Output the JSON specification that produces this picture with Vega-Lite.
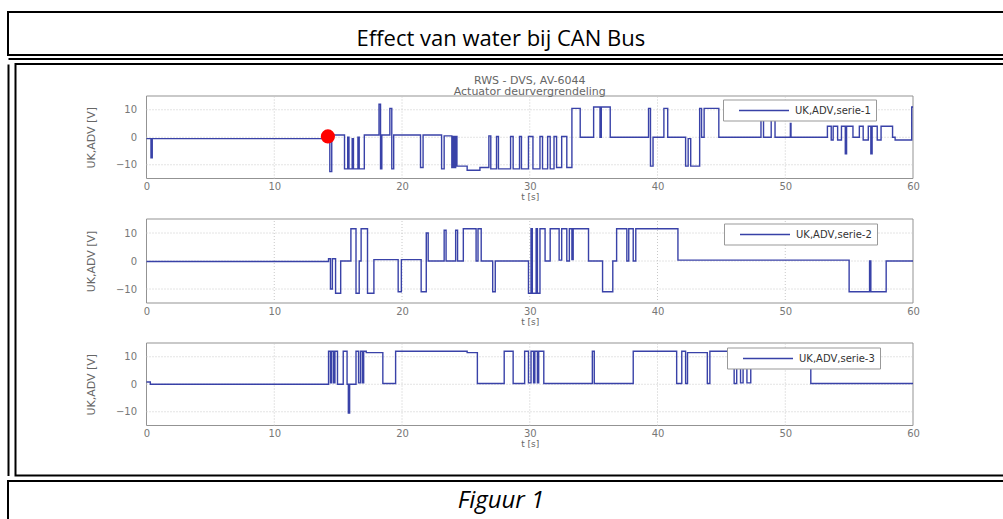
{
  "$schema": "https://vega.github.io/schema/vega-lite/v6.json",
  "background": "white",
  "padding": {"left": 7, "top": 11, "right": 0, "bottom": 0},
  "spacing": 0,
  "center": true,
  "config": {"font": "DejaVu Sans", "view": {"stroke": null}},
  "vconcat": [
    {
      "width": 1010,
      "height": 43,
      "view": {"stroke": "black", "strokeWidth": 2},
      "data": {"values": [{"label": "Effect van water bij CAN Bus"}]},
      "mark": {"type": "text", "font": "Open Sans", "fontSize": 22, "dy": 5, "color": "black", "baseline": "middle"},
      "encoding": {
        "text": {"field": "label"},
        "x": {"datum": 0.488, "type": "quantitative", "scale": {"domain": [0, 1]},
          "axis": {"orient": "bottom", "offset": 3.5, "domainColor": "black", "domainWidth": 2, "domainCap": "butt", "ticks": false, "labels": false, "title": null, "grid": false}}
      }
    },
    {
      "width": 995,
      "height": 411.5,
      "view": {"stroke": "black", "strokeWidth": 2},
      "resolve": {
        "scale": {"x": "independent", "y": "independent", "color": "independent"},
        "axis": {"x": "independent", "y": "independent"},
        "legend": {"color": "independent"}
      },
      "layer": [
        {
          "data": {"values": [{}]},
          "mark": {"type": "rect", "fillOpacity": 0, "stroke": "#939393", "strokeWidth": 1},
          "encoding": {
            "x": {"datum": 0, "type": "quantitative", "scale": {"domain": [0, 60], "range": [131, 897.5], "nice": false, "zero": false},
              "axis": {"orient": "bottom", "offset": -297, "values": [0, 10, 20, 30, 40, 50, 60], "grid": false, "domain": false, "ticks": false, "labelFlush": false, "labelPadding": 3, "labelFontSize": 10, "labelColor": "#777", "title": "t [s]", "titleFontSize": 9, "titleFontWeight": "normal", "titleColor": "#666", "titlePadding": 1}},
            "x2": {"datum": 60},
            "y": {"datum": -15, "type": "quantitative", "scale": {"domain": [-15, 15], "range": [114.5, 32], "nice": false, "zero": false},
              "axis": {"orient": "left", "offset": -131, "values": [-10, 0, 10], "grid": false, "domain": false, "ticks": false, "labelPadding": 10, "labelFontSize": 10, "labelColor": "#777", "title": "UK,ADV [V]", "titleFontSize": 11, "titleFontWeight": "normal", "titleColor": "#666", "titlePadding": 19}},
            "y2": {"datum": 15}
          }
        },
        {
          "data": {"values": [{"t": 10}, {"t": 20}, {"t": 30}, {"t": 40}, {"t": 50}]},
          "mark": {"type": "rule", "color": "#c8c8c8", "strokeDash": [1, 2]},
          "encoding": {
            "x": {"field": "t", "type": "quantitative", "scale": {"domain": [0, 60], "range": [131, 897.5], "nice": false, "zero": false}, "axis": null},
            "y": {"datum": -15, "type": "quantitative", "scale": {"domain": [-15, 15], "range": [114.5, 32], "nice": false, "zero": false}, "axis": null},
            "y2": {"datum": 15}
          }
        },
        {
          "data": {"values": [{"u": -10}, {"u": 0}, {"u": 10}]},
          "mark": {"type": "rule", "color": "#c8c8c8", "strokeDash": [1, 2]},
          "encoding": {
            "x": {"datum": 0, "type": "quantitative", "scale": {"domain": [0, 60], "range": [131, 897.5], "nice": false, "zero": false}, "axis": null},
            "x2": {"datum": 60},
            "y": {"field": "u", "type": "quantitative", "scale": {"domain": [-15, 15], "range": [114.5, 32], "nice": false, "zero": false}, "axis": null}
          }
        },
        {
          "data": {"values": [
            {"t": 0, "u": -0.5}, {"t": 0.35, "u": -7.5}, {"t": 0.45, "u": -0.5}, {"t": 14.35, "u": -12.5}, {"t": 14.5, "u": 0.8},
            {"t": 15.5, "u": -11.5}, {"t": 15.75, "u": 0}, {"t": 15.85, "u": -11.5}, {"t": 16.1, "u": -0.5}, {"t": 16.2, "u": -11.5},
            {"t": 16.55, "u": 0}, {"t": 16.65, "u": -11.5}, {"t": 17.05, "u": 0.8}, {"t": 18.2, "u": 12}, {"t": 18.32, "u": -11.5},
            {"t": 18.42, "u": 0.8}, {"t": 19.05, "u": 10.5}, {"t": 19.2, "u": -11.5}, {"t": 19.35, "u": 0.8}, {"t": 21.45, "u": -11},
            {"t": 21.65, "u": 0.8}, {"t": 23.1, "u": -11.5}, {"t": 23.3, "u": 0.5}, {"t": 23.9, "u": -11}, {"t": 24.0, "u": 0.3},
            {"t": 24.1, "u": -11}, {"t": 24.2, "u": 0.3}, {"t": 24.3, "u": -10.5}, {"t": 25.1, "u": -12}, {"t": 26.1, "u": -11},
            {"t": 26.8, "u": 0.5}, {"t": 26.95, "u": -11.5}, {"t": 27.4, "u": 0.3}, {"t": 27.55, "u": -11.5}, {"t": 28.5, "u": 0.3},
            {"t": 28.7, "u": -11.5}, {"t": 29.2, "u": 0.3}, {"t": 29.35, "u": -11.5}, {"t": 29.9, "u": 0.3}, {"t": 30.25, "u": -11.5},
            {"t": 30.8, "u": 0.3}, {"t": 31.0, "u": -11.5}, {"t": 31.4, "u": 0.3}, {"t": 31.6, "u": -11.5}, {"t": 31.9, "u": 0.3},
            {"t": 32.1, "u": -11}, {"t": 32.5, "u": 0.3}, {"t": 32.9, "u": -11}, {"t": 33.3, "u": 10.5}, {"t": 33.95, "u": 0},
            {"t": 35.0, "u": 11}, {"t": 35.5, "u": 0}, {"t": 35.6, "u": 11}, {"t": 36.3, "u": 0}, {"t": 39.3, "u": 10.5},
            {"t": 39.45, "u": -10.5}, {"t": 39.65, "u": 0}, {"t": 40.5, "u": 10.5}, {"t": 40.8, "u": 0}, {"t": 42.2, "u": -10.5},
            {"t": 42.4, "u": -0.5}, {"t": 42.6, "u": -10.5}, {"t": 43.3, "u": 10.5}, {"t": 43.45, "u": 0}, {"t": 43.65, "u": 10.5},
            {"t": 44.8, "u": 0}, {"t": 48.1, "u": 8}, {"t": 48.3, "u": 0}, {"t": 48.9, "u": 7}, {"t": 49.2, "u": 0},
            {"t": 50.4, "u": 5}, {"t": 50.45, "u": 0}, {"t": 53.3, "u": 4}, {"t": 53.6, "u": -1}, {"t": 53.75, "u": 4},
            {"t": 54.1, "u": -1}, {"t": 54.4, "u": 4}, {"t": 54.7, "u": -6}, {"t": 54.8, "u": 4}, {"t": 55.3, "u": 0},
            {"t": 55.8, "u": 4}, {"t": 56.1, "u": -1}, {"t": 56.5, "u": 4}, {"t": 56.7, "u": -6}, {"t": 56.8, "u": 4},
            {"t": 57.2, "u": -1}, {"t": 57.5, "u": 4}, {"t": 58.4, "u": 0}, {"t": 58.6, "u": -1}, {"t": 59.9, "u": 11}, {"t": 60, "u": 11}
          ]},
          "mark": {"type": "line", "interpolate": "step-after", "strokeWidth": 1.4, "opacity": 0.9},
          "encoding": {
            "x": {"field": "t", "type": "quantitative", "scale": {"domain": [0, 60], "range": [131, 897.5], "nice": false, "zero": false}, "axis": null},
            "y": {"field": "u", "type": "quantitative", "scale": {"domain": [-15, 15], "range": [114.5, 32], "nice": false, "zero": false}, "axis": null},
            "color": {"datum": "UK,ADV,serie-1", "type": "nominal", "scale": {"range": ["#232d9e"]},
              "legend": {"orient": "none", "legendX": 707.5, "legendY": 35.5, "title": null, "symbolType": "M-5,0H5", "symbolSize": 100, "symbolOffset": 30, "labelOffset": 25, "strokeColor": "#999", "fillColor": "white", "padding": 5, "labelFontSize": 10, "labelColor": "#333"}}
          }
        },
        {
          "data": {"values": [{"t": 14.2, "u": 0.3}]},
          "mark": {"type": "point", "filled": true, "color": "#ff0000", "size": 200, "opacity": 1},
          "encoding": {
            "x": {"field": "t", "type": "quantitative", "scale": {"domain": [0, 60], "range": [131, 897.5], "nice": false, "zero": false}, "axis": null},
            "y": {"field": "u", "type": "quantitative", "scale": {"domain": [-15, 15], "range": [114.5, 32], "nice": false, "zero": false}, "axis": null}
          }
        },
        {
          "data": {"values": [{}]},
          "mark": {"type": "text", "fontSize": 11, "lineHeight": 11.5, "color": "#666", "baseline": "middle", "text": ["RWS - DVS, AV-6044", "Actuator deurvergrendeling"]},
          "encoding": {
            "x": {"datum": 30, "type": "quantitative", "scale": {"domain": [0, 60], "range": [131, 897.5], "nice": false, "zero": false}, "axis": null},
            "y": {"datum": 20.6, "type": "quantitative", "scale": {"domain": [-15, 15], "range": [114.5, 32], "nice": false, "zero": false}, "axis": null}
          }
        },
        {
          "data": {"values": [{}]},
          "mark": {"type": "rect", "fillOpacity": 0, "stroke": "#939393", "strokeWidth": 1},
          "encoding": {
            "x": {"datum": 0, "type": "quantitative", "scale": {"domain": [0, 60], "range": [131, 897.5], "nice": false, "zero": false},
              "axis": {"orient": "bottom", "offset": -172.5, "values": [0, 10, 20, 30, 40, 50, 60], "grid": false, "domain": false, "ticks": false, "labelFlush": false, "labelPadding": 3, "labelFontSize": 10, "labelColor": "#777", "title": "t [s]", "titleFontSize": 9, "titleFontWeight": "normal", "titleColor": "#666", "titlePadding": 1}},
            "x2": {"datum": 60},
            "y": {"datum": -15, "type": "quantitative", "scale": {"domain": [-15, 15], "range": [239, 155], "nice": false, "zero": false},
              "axis": {"orient": "left", "offset": -131, "values": [-10, 0, 10], "grid": false, "domain": false, "ticks": false, "labelPadding": 10, "labelFontSize": 10, "labelColor": "#777", "title": "UK,ADV [V]", "titleFontSize": 11, "titleFontWeight": "normal", "titleColor": "#666", "titlePadding": 19}},
            "y2": {"datum": 15}
          }
        },
        {
          "data": {"values": [{"t": 10}, {"t": 20}, {"t": 30}, {"t": 40}, {"t": 50}]},
          "mark": {"type": "rule", "color": "#c8c8c8", "strokeDash": [1, 2]},
          "encoding": {
            "x": {"field": "t", "type": "quantitative", "scale": {"domain": [0, 60], "range": [131, 897.5], "nice": false, "zero": false}, "axis": null},
            "y": {"datum": -15, "type": "quantitative", "scale": {"domain": [-15, 15], "range": [239, 155], "nice": false, "zero": false}, "axis": null},
            "y2": {"datum": 15}
          }
        },
        {
          "data": {"values": [{"u": -10}, {"u": 0}, {"u": 10}]},
          "mark": {"type": "rule", "color": "#c8c8c8", "strokeDash": [1, 2]},
          "encoding": {
            "x": {"datum": 0, "type": "quantitative", "scale": {"domain": [0, 60], "range": [131, 897.5], "nice": false, "zero": false}, "axis": null},
            "x2": {"datum": 60},
            "y": {"field": "u", "type": "quantitative", "scale": {"domain": [-15, 15], "range": [239, 155], "nice": false, "zero": false}, "axis": null}
          }
        },
        {
          "data": {"values": [
            {"t": 0, "u": -0.2}, {"t": 14.25, "u": 0.8}, {"t": 14.4, "u": -10}, {"t": 14.55, "u": 0.8}, {"t": 14.8, "u": -11.5},
            {"t": 15.2, "u": 0}, {"t": 16.0, "u": 11.5}, {"t": 16.4, "u": -11.5}, {"t": 16.65, "u": 0}, {"t": 16.8, "u": 11.5},
            {"t": 17.3, "u": -11.5}, {"t": 17.8, "u": 0.5}, {"t": 19.7, "u": -11}, {"t": 19.95, "u": 0.5}, {"t": 21.5, "u": -11},
            {"t": 21.9, "u": 10}, {"t": 22.05, "u": 0}, {"t": 23.3, "u": 11}, {"t": 23.45, "u": 0}, {"t": 24.2, "u": 11},
            {"t": 24.35, "u": 0}, {"t": 24.8, "u": 11.5}, {"t": 25.8, "u": 0}, {"t": 25.95, "u": 11.5}, {"t": 26.2, "u": 0},
            {"t": 27.1, "u": -11}, {"t": 27.3, "u": 0}, {"t": 29.9, "u": -11.5}, {"t": 30.1, "u": 11.5}, {"t": 30.2, "u": -11.5},
            {"t": 30.5, "u": 11.5}, {"t": 30.6, "u": -11.5}, {"t": 30.8, "u": 11.5}, {"t": 31.2, "u": 0}, {"t": 31.6, "u": 11.5},
            {"t": 32.3, "u": 0.3}, {"t": 32.5, "u": 11.5}, {"t": 32.9, "u": 0}, {"t": 33.1, "u": 11.5}, {"t": 33.3, "u": 0.5},
            {"t": 33.4, "u": 11.5}, {"t": 34.6, "u": 0}, {"t": 35.7, "u": -11}, {"t": 36.5, "u": 0}, {"t": 36.8, "u": 11.5},
            {"t": 37.6, "u": 0}, {"t": 37.75, "u": 11.5}, {"t": 38.1, "u": 0}, {"t": 38.3, "u": 11.5}, {"t": 41.6, "u": 0.3},
            {"t": 55.0, "u": -11}, {"t": 56.6, "u": 0}, {"t": 56.7, "u": -11}, {"t": 57.9, "u": 0}, {"t": 60, "u": 0}
          ]},
          "mark": {"type": "line", "interpolate": "step-after", "strokeWidth": 1.4, "opacity": 0.9},
          "encoding": {
            "x": {"field": "t", "type": "quantitative", "scale": {"domain": [0, 60], "range": [131, 897.5], "nice": false, "zero": false}, "axis": null},
            "y": {"field": "u", "type": "quantitative", "scale": {"domain": [-15, 15], "range": [239, 155], "nice": false, "zero": false}, "axis": null},
            "color": {"datum": "UK,ADV,serie-2", "type": "nominal", "scale": {"range": ["#232d9e"]},
              "legend": {"orient": "none", "legendX": 708.5, "legendY": 159.5, "title": null, "symbolType": "M-5,0H5", "symbolSize": 100, "symbolOffset": 30, "labelOffset": 25, "strokeColor": "#999", "fillColor": "white", "padding": 5, "labelFontSize": 10, "labelColor": "#333"}}
          }
        },
        {
          "data": {"values": [{}]},
          "mark": {"type": "rect", "fillOpacity": 0, "stroke": "#939393", "strokeWidth": 1},
          "encoding": {
            "x": {"datum": 0, "type": "quantitative", "scale": {"domain": [0, 60], "range": [131, 897.5], "nice": false, "zero": false},
              "axis": {"orient": "bottom", "offset": -50, "values": [0, 10, 20, 30, 40, 50, 60], "grid": false, "domain": false, "ticks": false, "labelFlush": false, "labelPadding": 3, "labelFontSize": 10, "labelColor": "#777", "title": "t [s]", "titleFontSize": 9, "titleFontWeight": "normal", "titleColor": "#666", "titlePadding": 1}},
            "x2": {"datum": 60},
            "y": {"datum": -15, "type": "quantitative", "scale": {"domain": [-15, 15], "range": [361.5, 279], "nice": false, "zero": false},
              "axis": {"orient": "left", "offset": -131, "values": [-10, 0, 10], "grid": false, "domain": false, "ticks": false, "labelPadding": 10, "labelFontSize": 10, "labelColor": "#777", "title": "UK,ADV [V]", "titleFontSize": 11, "titleFontWeight": "normal", "titleColor": "#666", "titlePadding": 19}},
            "y2": {"datum": 15}
          }
        },
        {
          "data": {"values": [{"t": 10}, {"t": 20}, {"t": 30}, {"t": 40}, {"t": 50}]},
          "mark": {"type": "rule", "color": "#c8c8c8", "strokeDash": [1, 2]},
          "encoding": {
            "x": {"field": "t", "type": "quantitative", "scale": {"domain": [0, 60], "range": [131, 897.5], "nice": false, "zero": false}, "axis": null},
            "y": {"datum": -15, "type": "quantitative", "scale": {"domain": [-15, 15], "range": [361.5, 279], "nice": false, "zero": false}, "axis": null},
            "y2": {"datum": 15}
          }
        },
        {
          "data": {"values": [{"u": -10}, {"u": 0}, {"u": 10}]},
          "mark": {"type": "rule", "color": "#c8c8c8", "strokeDash": [1, 2]},
          "encoding": {
            "x": {"datum": 0, "type": "quantitative", "scale": {"domain": [0, 60], "range": [131, 897.5], "nice": false, "zero": false}, "axis": null},
            "x2": {"datum": 60},
            "y": {"field": "u", "type": "quantitative", "scale": {"domain": [-15, 15], "range": [361.5, 279], "nice": false, "zero": false}, "axis": null}
          }
        },
        {
          "data": {"values": [
            {"t": 0, "u": 0.8}, {"t": 0.3, "u": 0}, {"t": 14.25, "u": 12}, {"t": 14.4, "u": 0.5}, {"t": 14.5, "u": 12},
            {"t": 14.65, "u": 0.5}, {"t": 14.75, "u": 12}, {"t": 14.95, "u": 0}, {"t": 15.4, "u": 12}, {"t": 15.7, "u": 0},
            {"t": 15.8, "u": -10.5}, {"t": 15.9, "u": 0}, {"t": 16.4, "u": 12}, {"t": 16.6, "u": 0.5}, {"t": 16.75, "u": 12},
            {"t": 16.9, "u": 0.5}, {"t": 17.0, "u": 12}, {"t": 17.2, "u": 11.5}, {"t": 18.5, "u": 0.3}, {"t": 19.5, "u": 12},
            {"t": 25.1, "u": 11.5}, {"t": 25.9, "u": 0.3}, {"t": 28.0, "u": 12}, {"t": 28.7, "u": 0.3}, {"t": 29.6, "u": 12},
            {"t": 29.9, "u": 0.5}, {"t": 30.1, "u": 12}, {"t": 30.3, "u": 0.5}, {"t": 30.4, "u": 12}, {"t": 30.6, "u": 0.5},
            {"t": 30.7, "u": 12}, {"t": 31.1, "u": 0.3}, {"t": 34.9, "u": 12}, {"t": 35.05, "u": 0.3}, {"t": 38.1, "u": 12},
            {"t": 41.5, "u": 0.3}, {"t": 41.9, "u": 12}, {"t": 42.2, "u": 0.3}, {"t": 42.35, "u": 11.5}, {"t": 43.9, "u": 0.3},
            {"t": 44.1, "u": 12}, {"t": 46.0, "u": 0.3}, {"t": 46.2, "u": 12}, {"t": 46.5, "u": 0.5}, {"t": 46.7, "u": 12},
            {"t": 47.0, "u": 0.5}, {"t": 47.3, "u": 12}, {"t": 52.0, "u": 0.3}, {"t": 60, "u": 0.3}
          ]},
          "mark": {"type": "line", "interpolate": "step-after", "strokeWidth": 1.4, "opacity": 0.9},
          "encoding": {
            "x": {"field": "t", "type": "quantitative", "scale": {"domain": [0, 60], "range": [131, 897.5], "nice": false, "zero": false}, "axis": null},
            "y": {"field": "u", "type": "quantitative", "scale": {"domain": [-15, 15], "range": [361.5, 279], "nice": false, "zero": false}, "axis": null},
            "color": {"datum": "UK,ADV,serie-3", "type": "nominal", "scale": {"range": ["#232d9e"]},
              "legend": {"orient": "none", "legendX": 711.5, "legendY": 283.5, "title": null, "symbolType": "M-5,0H5", "symbolSize": 100, "symbolOffset": 30, "labelOffset": 25, "strokeColor": "#999", "fillColor": "white", "padding": 5, "labelFontSize": 10, "labelColor": "#333"}}
          }
        },
        {
          "data": {"values": [{"v": 0}, {"v": 1}]},
          "mark": {"type": "point", "opacity": 0},
          "encoding": {
            "y": {"field": "v", "type": "quantitative", "scale": {"domain": [0, 1], "nice": false, "zero": false},
              "axis": {"orient": "left", "offset": 7.5, "domainColor": "black", "domainWidth": 2, "domainCap": "butt", "ticks": false, "labels": false, "title": null, "grid": false}}
          }
        }
      ]
    },
    {
      "width": 1010,
      "height": 45,
      "view": {"stroke": "black", "strokeWidth": 2},
      "data": {"values": [{"label": "Figuur 1"}]},
      "mark": {"type": "text", "font": "Open Sans", "fontSize": 24, "fontStyle": "italic", "dy": -3, "dx": -12, "color": "black", "baseline": "middle"},
      "encoding": {"text": {"field": "label"}}
    }
  ]
}
